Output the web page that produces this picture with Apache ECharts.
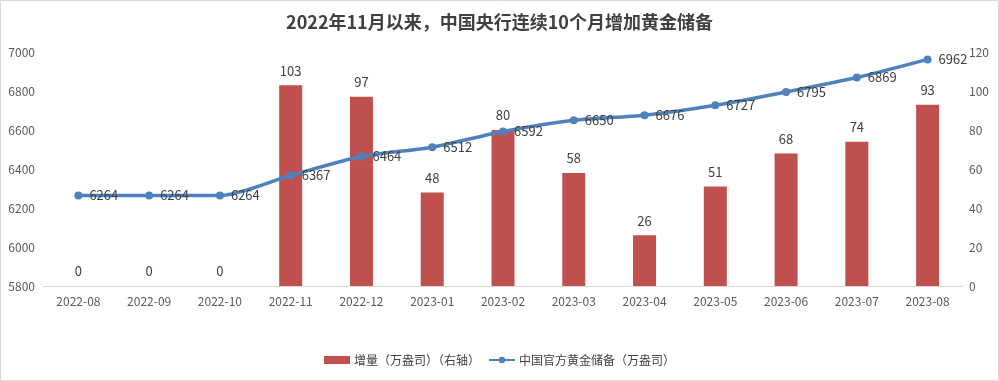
<!DOCTYPE html>
<html><head><meta charset="utf-8">
<script src="https://cdn.jsdelivr.net/npm/echarts@6/dist/echarts.min.js"></script>
<style>html,body{margin:0;padding:0;background:#fff}#c{width:999px;height:381px}</style>
</head><body><div id="c"></div>
<script>
const categories = ['2022-08','2022-09','2022-10','2022-11','2022-12','2023-01','2023-02','2023-03','2023-04','2023-05','2023-06','2023-07','2023-08'];
const increase = [0,0,0,103,97,48,80,58,26,51,68,74,93];
const reserve = [6264,6264,6264,6367,6464,6512,6592,6650,6676,6727,6795,6869,6962];
const leftTicks = [5800,7000,200];
const rightTicks = [0,120,20];
const FONT = "'Noto Sans CJK SC','Noto Sans',sans-serif";
const chart = echarts.init(document.getElementById('c'), null, {renderer:'canvas'});
chart.setOption({
  animation:false,
  textStyle:{fontFamily:FONT},
  graphic:[{type:'rect',silent:true,shape:{x:0.5,y:0.5,width:998,height:380},style:{fill:'none',stroke:'#d9d9d9',lineWidth:1}}],
  title:{text:'2022年11月以来，中国央行连续10个月增加黄金储备',left:'center',top:8,
    textStyle:{fontFamily:FONT,fontSize:18,fontWeight:'bold',color:'#404040'}},
  grid:{left:43,right:36,top:52,bottom:95,containLabel:false},
  legend:{bottom:10,left:'center',itemGap:8,itemWidth:26,itemHeight:8,
    textStyle:{fontFamily:FONT,fontSize:12,color:'#404040',padding:[0,0,0,-1]},
    data:[{name:'增量（万盎司）（右轴）',icon:'rect'},{name:'中国官方黄金储备（万盎司）'}]},
  xAxis:{type:'category',data:categories,
    axisLine:{lineStyle:{color:'#d9d9d9',width:1}},axisTick:{show:false},
    axisLabel:{color:'#595959',fontSize:12,margin:9,interval:0}},
  yAxis:[
    {type:'value',min:leftTicks[0],max:leftTicks[1],interval:leftTicks[2],splitLine:{show:false},
     axisLine:{show:false},axisTick:{show:false},axisLabel:{color:'#595959',fontSize:12,margin:8,formatter:v=>String(v)}},
    {type:'value',min:rightTicks[0],max:rightTicks[1],interval:rightTicks[2],splitLine:{show:false},
     axisLine:{show:false},axisTick:{show:false},axisLabel:{color:'#595959',fontSize:12,margin:6,formatter:v=>String(v)}}
  ],
  series:[
    {name:'增量（万盎司）（右轴）',type:'bar',yAxisIndex:1,data:increase,barWidth:23,
     itemStyle:{color:'#C0504D'},
     label:{show:true,position:'top',distance:8,color:'#404040',fontSize:13,fontFamily:FONT}},
    {name:'中国官方黄金储备（万盎司）',type:'line',yAxisIndex:0,data:reserve,smooth:0.25,
     symbol:'circle',symbolSize:8,
     lineStyle:{color:'#4F81BD',width:3.5},itemStyle:{color:'#4F81BD'},
     label:{show:true,position:'right',distance:7,color:'#404040',fontSize:13,fontFamily:FONT}}
  ]
});
</script></body></html>
